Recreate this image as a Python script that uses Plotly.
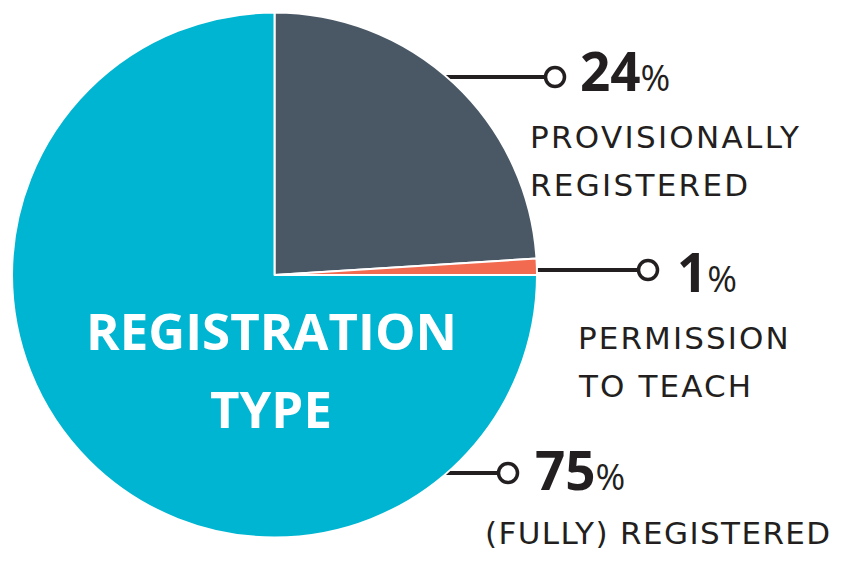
import plotly.graph_objects as go

categories = ["PROVISIONALLY<br>REGISTERED", "PERMISSION<br>TO TEACH", "(FULLY) REGISTERED"]
values = [24, 1, 75]
pct_labels = ["24", "1", "75"]
colors = ["#4a5866", "#f26b50", "#00b5d1"]
title_lines = ["REGISTRATION", "TYPE"]

W, H = 842, 562
TXT = "#231f20"

fig = go.Figure()
fig.add_trace(go.Pie(
    values=values, labels=categories, sort=False, direction="clockwise", rotation=0,
    marker=dict(colors=colors, line=dict(color="white", width=2)),
    textinfo="none", hoverinfo="label+percent", showlegend=False,
    domain=dict(x=[12 / W, 537 / W], y=[1 - 538 / H, 1 - 12 / H]),
))

# connector circles
cx = [555, 648, 508]
cy = [77, 270, 473]
line_start = [440, 530, 440]
for i in range(3):
    fig.add_shape(type="line", x0=line_start[i], x1=cx[i], y0=cy[i], y1=cy[i],
                  line=dict(color=TXT, width=4), layer="below")
fig.add_trace(go.Scatter(x=cx, y=cy, mode="markers", hoverinfo="skip", showlegend=False,
                         marker=dict(size=19, color="white", line=dict(color=TXT, width=3.5))))

FONT = "Open Sans"
num_x = [578, 675, 533]
num_y = [70, 271, 469]
lab_x = [528, 576, 483]
lab_y0 = [137, 338, 533]
spacing = [2.3, 2.1, 1.4]
LINE_GAP = 48
for i in range(3):
    fig.add_annotation(x=num_x[i], y=num_y[i], xanchor="left", yanchor="middle", showarrow=False,
                       text=f"<b>{pct_labels[i]}</b><span style='font-size:36px'>%</span>",
                       font=dict(family=FONT, size=53, color=TXT))
    for j, line in enumerate(categories[i].split("<br>")):
        fig.add_annotation(x=lab_x[i], y=lab_y0[i] + j * LINE_GAP, xanchor="left", yanchor="middle",
                           showarrow=False, align="left",
                           text=f"<span style='letter-spacing:{spacing[i]}px'>{line}</span>",
                           font=dict(family="DejaVu Sans", size=31, color=TXT))

title_y = [330, 408]
for j, line in enumerate(title_lines):
    fig.add_annotation(x=271, y=title_y[j], xanchor="center", yanchor="middle", showarrow=False,
                       text=f"<b>{line}</b>", align="center",
                       font=dict(family=FONT, size=51, color="white"))

fig.update_layout(
    width=W, height=H, margin=dict(l=0, r=0, t=0, b=0),
    paper_bgcolor="white", plot_bgcolor="rgba(0,0,0,0)",
    xaxis=dict(range=[0, W], visible=False, fixedrange=True),
    yaxis=dict(range=[H, 0], visible=False, fixedrange=True),
)
fig.write_html("out.html")
